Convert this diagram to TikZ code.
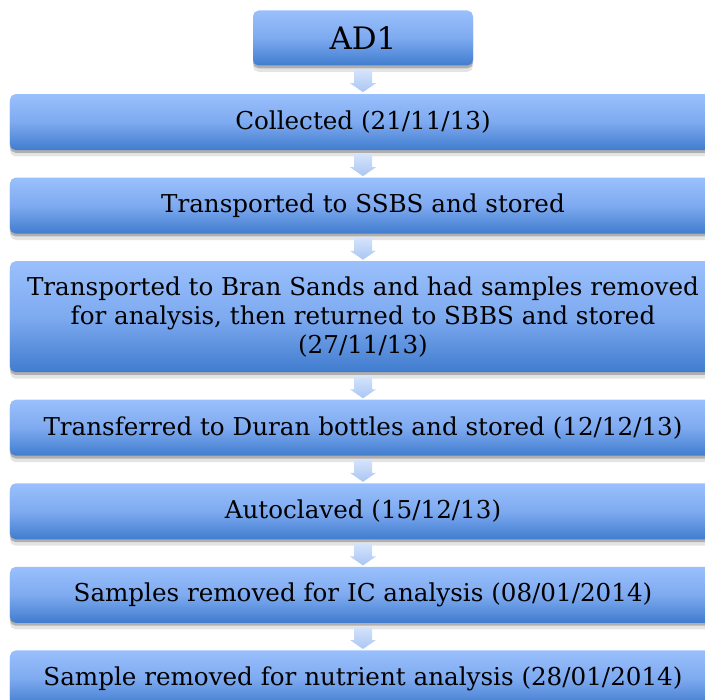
\documentclass[tikz,border=0pt]{standalone}
\usepackage{fontspec}
\setmainfont{DejaVu Serif}
\usetikzlibrary{positioning, calc, shadows}

\definecolor{boxtop}{RGB}{154,192,252}
\definecolor{boxmid}{RGB}{126,170,240}
\definecolor{boxbot}{RGB}{64,124,206}
\definecolor{arrtop}{RGB}{212,227,251}
\definecolor{arrbot}{RGB}{170,198,243}

\begin{document}
\begin{tikzpicture}[node distance=.675cm,
  stage/.style={rounded corners=4pt, top color=boxtop, bottom color=boxbot, middle color=boxmid,
    minimum width=17.65cm, minimum height=1.4cm, inner sep=2pt, align=center,
    font=\fontsize{17.5}{20.6}\selectfont,
    general shadow={shadow yshift=-.07cm, opacity=.35, fill=black!70},
    general shadow={shadow yshift=-.16cm, opacity=.15, fill=black!70}},
  flow/.style={top color=arrtop, bottom color=arrbot}]%,>=stealth'
\useasboundingbox (0,0) rectangle (17.625,-17.5);
\node [stage, minimum width=5.5cm, minimum height=1.375cm, font=\fontsize{22}{26}\selectfont] (ad1) at (9.075,-.95) {AD1};
\node [stage, below=.7cm of ad1] (s1) {Collected (21/11/13)};
\node [stage, below=of s1] (s2) {Transported to SSBS and stored};
\node [stage, below=of s2, minimum height=2.775cm] (s3) {Transported to Bran Sands and had samples removed\\ for analysis, then returned to SBBS and stored\\ (27/11/13)};
\node [stage, below=of s3] (s4) {Transferred to Duran bottles and stored (12/12/13)};
\node [stage, below=of s4] (s5) {Autoclaved (15/12/13)};
\node [stage, below=of s5] (s6) {Samples removed for IC analysis (08/01/2014)};
\node [stage, below=of s6] (s7) {Sample removed for nutrient analysis (28/01/2014)};
\foreach \a/\b in {ad1/s1, s1/s2, s2/s3, s3/s4, s4/s5, s5/s6, s6/s7}
  \path [flow] ($(\a.south)!.55!(\b.north)$) ++(-.225,.275) -- ++(.45,0) -- ++(0,-.325) -- ++(.1,0)
    -- ++(-.325,-.225) -- ++(-.325,.225) -- ++(.1,0) -- cycle;
\end{tikzpicture}
\end{document}
